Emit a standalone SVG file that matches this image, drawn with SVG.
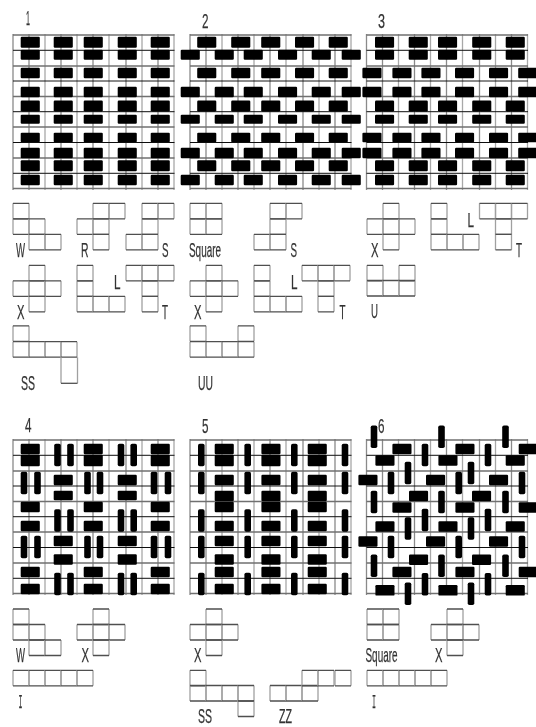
<svg xmlns="http://www.w3.org/2000/svg" width="536" height="727" viewBox="0 0 536 727">
<style>
.gv{stroke:#8a8a8a;stroke-width:1.3;fill:none}
.gv2{stroke:#a8a8a8;stroke-width:1.3;fill:none}
.gh{stroke:#707070;stroke-width:1.7;fill:none}
.gk{stroke:#111;stroke-width:1;fill:none}
.cv{stroke:#a0a0a0;stroke-width:1.3;fill:none}
.ch{stroke:#505050;stroke-width:1.3;fill:none}
.b{fill:#000}
text{font-family:"Liberation Sans",Arial,sans-serif;font-size:21px;fill:#333;stroke:#333;stroke-width:.25}
.m{font-family:"Liberation Mono",monospace}
</style>
<defs>
<filter id="soft" x="0" y="0" width="536" height="727" filterUnits="userSpaceOnUse"><feGaussianBlur stdDeviation="0.4"/></filter>
<g id="grid">
<path class="gv" d="M0-1V155M16-1V155M48-1V155M80-1V155M113-1V155M145-1V155"/>
<path class="gv2" d="M32-1V155M64-1V155M96-1V155M129-1V155M161-1V155"/>
<path class="gh" d="M0 0H161.500M0 31H161.500M0 61.500H161.500M0 92H161.500M0 123H161.500M0 153.500H161.500"/>
<path class="gk" d="M0 15.300H161.500M0 46H161.500M0 76.700H161.500M0 107.500H161.500M0 138.300H161.500"/>
</g>
<g id="c"><path class="cv" d="M0 0V15.500M16 0V15.500"/><path class="ch" d="M0 0H16M0 15.500H16"/></g>
<rect id="h" class="b" x="-.3" y="-.3" width="19.100" height="10.600" rx="1.200"/>
<rect id="v" class="b" x="-.3" y="-.3" width="6.600" height="22.600" rx="1.800"/>
<g id="r1"><use href="#h" x="21"/><use href="#h" x="54"/><use href="#h" x="84"/><use href="#h" x="118"/><use href="#h" x="151"/></g>
<g id="r2a"><use href="#h" x="197.500"/><use href="#h" x="231.500"/><use href="#h" x="261.500"/><use href="#h" x="295.300"/><use href="#h" x="329"/></g>
<g id="r2b"><use href="#h" x="181"/><use href="#h" x="215"/><use href="#h" x="244"/><use href="#h" x="278.300"/><use href="#h" x="312"/><use href="#h" x="342"/></g>
<g id="r3a"><use href="#h" x="375.300"/><use href="#h" x="409"/><use href="#h" x="438.300"/><use href="#h" x="472.500"/><use href="#h" x="506"/></g>
<g id="r3b"><use href="#h" x="362.700"/><use href="#h" x="392.700"/><use href="#h" x="421.700"/><use href="#h" x="455.300"/><use href="#h" x="489.300"/><use href="#h" x="518.500"/></g>
<g id="h4a"><use href="#h" x="21"/><use href="#h" x="84"/><use href="#h" x="151"/></g>
<g id="h4b"><use href="#h" x="54"/><use href="#h" x="118"/></g>
<g id="v4a"><use href="#v" x="54.500"/><use href="#v" x="67.500"/><use href="#v" x="118"/><use href="#v" x="130.700"/></g>
<g id="v4b"><use href="#v" x="21"/><use href="#v" x="34.500"/><use href="#v" x="84.500"/><use href="#v" x="97"/><use href="#v" x="151"/><use href="#v" x="165"/></g>
<g id="h5"><use href="#h" x="215"/><use href="#h" x="261.700"/><use href="#h" x="308"/></g>
<g id="v5"><use href="#v" x="198.300"/><use href="#v" x="244.700"/><use href="#v" x="291.300"/><use href="#v" x="342"/></g>
<g id="va"><use href="#v" x="371"/><use href="#v" x="438.500"/><use href="#v" x="502.500"/></g>
<g id="hb"><use href="#h" x="392.700"/><use href="#h" x="455.700"/><use href="#h" x="519"/></g>
<g id="vc"><use href="#v" x="422"/><use href="#v" x="485"/></g>
<g id="hd"><use href="#h" x="375.700"/><use href="#h" x="438.700"/><use href="#h" x="506"/></g>
<g id="ve"><use href="#v" x="405"/><use href="#v" x="468"/></g>
<g id="hf"><use href="#h" x="358.700"/><use href="#h" x="426.300"/><use href="#h" x="489.300"/></g>
<g id="vg"><use href="#v" x="388"/><use href="#v" x="455.700"/><use href="#v" x="519"/></g>
<g id="hi"><use href="#h" x="409.300"/><use href="#h" x="472.300"/></g>
<g id="pW"><use href="#c" y="0"/><use href="#c" y="15.500"/><use href="#c" x="16" y="15.500"/><use href="#c" x="16" y="31"/><use href="#c" x="32" y="31"/></g>
<g id="pX"><use href="#c" x="16"/><use href="#c" y="15.500"/><use href="#c" x="16" y="15.500"/><use href="#c" x="32" y="15.500"/><use href="#c" x="16" y="31"/></g>
<g id="pS"><use href="#c" x="16"/><use href="#c" x="32"/><use href="#c" x="16" y="15.500"/><use href="#c" y="31"/><use href="#c" x="16" y="31"/></g>
<g id="pR"><use href="#c" x="16"/><use href="#c" x="32"/><use href="#c" y="15.500"/><use href="#c" x="16" y="15.500"/><use href="#c" x="16" y="31"/></g>
<g id="pL"><use href="#c"/><use href="#c" y="15.500"/><use href="#c" y="31"/><use href="#c" x="16" y="31"/><use href="#c" x="32" y="31"/></g>
<g id="pT"><use href="#c"/><use href="#c" x="16"/><use href="#c" x="32"/><use href="#c" x="16" y="15.500"/><use href="#c" x="16" y="31"/></g>
<g id="pQ"><use href="#c"/><use href="#c" x="16"/><use href="#c" y="15.500"/><use href="#c" x="16" y="15.500"/></g>
<g id="pI4"><use href="#c"/><use href="#c" x="16"/><use href="#c" x="32"/><use href="#c" x="48"/></g>
<g id="pI"><use href="#pI4"/><use href="#c" x="64"/></g>
</defs>
<rect width="536" height="727" fill="#fff"/>
<g filter="url(#soft)">
<g id="panel-1">
<use href="#grid" x="13" y="35"/>
<use href="#r1" transform="translate(0,37) scale(1,1.050)"/>
<use href="#r1" transform="translate(0,50) scale(1,.95)"/>
<use href="#r1" transform="translate(0,68)"/>
<use href="#r1" transform="translate(0,87)"/>
<use href="#r1" transform="translate(0,100.700) scale(1,1.050)"/>
<use href="#r1" transform="translate(0,115) scale(1,.85)"/>
<use href="#r1" transform="translate(0,133) scale(1,.9)"/>
<use href="#r1" transform="translate(0,148)"/>
<use href="#r1" transform="translate(0,160.500) scale(1,1.050)"/>
<use href="#r1" transform="translate(0,175)"/>
<text x="26" y="25" textLength="4" lengthAdjust="spacingAndGlyphs">1</text>
</g>
<g id="panel-2">
<use href="#grid" x="190" y="35"/>
<use href="#r2a" transform="translate(0,37) scale(1,1.050)"/>
<use href="#r2b" transform="translate(0,50) scale(1,.95)"/>
<use href="#r2a" transform="translate(0,68)"/>
<use href="#r2b" transform="translate(0,87)"/>
<use href="#r2a" transform="translate(0,100.700) scale(1,1.050)"/>
<use href="#r2b" transform="translate(0,115) scale(1,.85)"/>
<use href="#r2a" transform="translate(0,133) scale(1,.9)"/>
<use href="#r2b" transform="translate(0,148)"/>
<use href="#r2a" transform="translate(0,160.500) scale(1,1.050)"/>
<use href="#r2b" transform="translate(0,175)"/>
<text x="202" y="28" textLength="6.500" lengthAdjust="spacingAndGlyphs">2</text>
</g>
<g id="panel-3">
<use href="#grid" x="366.500" y="35"/>
<use href="#r3a" transform="translate(0,37) scale(1,1.050)"/>
<use href="#r3a" transform="translate(0,50) scale(1,.95)"/>
<use href="#r3b" transform="translate(0,68)"/>
<use href="#r3b" transform="translate(0,87)"/>
<use href="#r3a" transform="translate(0,100.700) scale(1,1.050)"/>
<use href="#r3a" transform="translate(0,115) scale(1,.85)"/>
<use href="#r3b" transform="translate(0,133) scale(1,.9)"/>
<use href="#r3b" transform="translate(0,148)"/>
<use href="#r3a" transform="translate(0,160.500) scale(1,1.050)"/>
<use href="#r3a" transform="translate(0,175)"/>
<text x="378" y="28" textLength="7" lengthAdjust="spacingAndGlyphs">3</text>
</g>
<g id="panel-4">
<use href="#grid" x="13" y="440"/>
<use href="#h4a" y="444"/><use href="#h4a" transform="translate(0,455) scale(1,1.100)"/><use href="#v4a" y="444"/>
<use href="#v4b" y="472"/><use href="#h4b" y="475"/><use href="#h4b" transform="translate(0,491) scale(1,.9)"/>
<use href="#h4a" y="502"/><use href="#h4a" y="521"/><use href="#v4a" y="509.500"/>
<use href="#v4b" y="536"/><use href="#h4b" y="536"/><use href="#h4b" y="554.500"/>
<use href="#h4a" y="567"/><use href="#h4a" y="584"/><use href="#v4a" y="573"/>
<text x="25" y="432" textLength="6.500" lengthAdjust="spacingAndGlyphs">4</text>
</g>
<g id="panel-5">
<use href="#grid" x="190" y="440"/>
<use href="#h5" y="444"/><use href="#h5" transform="translate(0,455) scale(1,1.100)"/><use href="#v5" y="444"/>
<use href="#v5" y="472"/><use href="#h5" y="475"/><use href="#h5" y="491"/>
<use href="#h5" y="502"/><use href="#h5" y="521"/><use href="#v5" y="509.500"/>
<use href="#v5" y="536"/><use href="#h5" y="536"/><use href="#h5" y="554.500"/>
<use href="#h5" y="567"/><use href="#h5" y="584"/><use href="#v5" y="573"/>
<text x="202" y="432.500" textLength="6.500" lengthAdjust="spacingAndGlyphs">5</text>
</g>
<g id="panel-6">
<use href="#grid" x="366.500" y="440"/>
<use href="#va" y="425.700"/><use href="#hb" y="444"/><use href="#vc" y="444"/><use href="#hd" y="455.500"/><use href="#ve" y="462"/><use href="#hf" y="475"/><use href="#vg" y="472"/>
<use href="#va" y="491"/><use href="#hi" y="491"/><use href="#hb" y="502.500"/><use href="#vc" y="509"/><use href="#hd" y="521.500"/><use href="#ve" y="517.500"/><use href="#hf" y="536.500"/><use href="#vg" y="536"/>
<use href="#va" y="554.700"/><use href="#hi" y="554.700"/><use href="#hb" y="567"/><use href="#vc" y="573.300"/><use href="#hd" y="585.300"/><use href="#ve" y="582.700"/>
<text x="378" y="432.500" textLength="6.500" lengthAdjust="spacingAndGlyphs">6</text>
</g>
<g id="pieces-1">
<g id="w1"><use href="#pW" x="13" y="203.300"/><text x="16" y="257" textLength="9" lengthAdjust="spacingAndGlyphs">W</text></g>
<g id="r1-piece"><use href="#pR" x="77" y="203.300"/><text x="81" y="257" textLength="7.500" lengthAdjust="spacingAndGlyphs">R</text></g>
<g id="s1"><use href="#pS" x="126" y="203.300"/><text x="162" y="257" textLength="6.500" lengthAdjust="spacingAndGlyphs">S</text></g>
<g id="x1"><use href="#pX" x="13" y="265.300"/><text x="17" y="319" textLength="7.500" lengthAdjust="spacingAndGlyphs">X</text></g>
<g id="l1"><use href="#pL" x="77" y="265.300"/><text x="114" y="288.500" textLength="6.500" lengthAdjust="spacingAndGlyphs">L</text></g>
<g id="t1"><use href="#pT" x="126" y="265.300"/><text x="162" y="318.500" textLength="6" lengthAdjust="spacingAndGlyphs">T</text></g>
<g id="ss1"><use href="#c" x="13" y="325.800"/><use href="#pI4" x="13" y="341.700"/><path class="cv" d="M61 357.300V383.300M77.500 357.300V383.300"/><path class="ch" d="M61 383.300H77.500"/><text x="21" y="390" textLength="14" lengthAdjust="spacingAndGlyphs">SS</text></g>
</g>
<g id="pieces-2">
<g id="sq2"><use href="#pQ" x="190" y="203.300"/><text x="189" y="256.500" textLength="32" lengthAdjust="spacingAndGlyphs">Square</text></g>
<g id="s2"><use href="#pS" x="254" y="203.300"/><text x="290.500" y="257" textLength="6.500" lengthAdjust="spacingAndGlyphs">S</text></g>
<g id="x2"><use href="#pX" x="190" y="265.300"/><text x="194" y="319" textLength="7.500" lengthAdjust="spacingAndGlyphs">X</text></g>
<g id="l2"><use href="#pL" x="254" y="265.300"/><text x="291" y="288.500" textLength="6.500" lengthAdjust="spacingAndGlyphs">L</text></g>
<g id="t2"><use href="#pT" x="302" y="265.300"/><text x="339.500" y="318.500" textLength="6" lengthAdjust="spacingAndGlyphs">T</text></g>
<g id="uu2"><use href="#c" x="190" y="325.800"/><use href="#c" x="238" y="325.800"/><use href="#pI4" x="190" y="341.700"/><text x="198" y="390" textLength="15" lengthAdjust="spacingAndGlyphs">UU</text></g>
</g>
<g id="pieces-3">
<g id="x3"><use href="#pX" x="367" y="203.300"/><text x="371" y="257" textLength="7.500" lengthAdjust="spacingAndGlyphs">X</text></g>
<g id="l3"><use href="#pL" x="431" y="203.300"/><text x="467.500" y="226.500" textLength="6.500" lengthAdjust="spacingAndGlyphs">L</text></g>
<g id="t3"><use href="#pT" x="479.500" y="203.300"/><text x="516" y="257" textLength="6" lengthAdjust="spacingAndGlyphs">T</text></g>
<g id="u3"><use href="#c" x="367" y="265.300"/><use href="#c" x="399" y="265.300"/><use href="#c" x="367" y="280.500"/><use href="#c" x="383" y="280.500"/><use href="#c" x="399" y="280.500"/><text x="371" y="318" textLength="7" lengthAdjust="spacingAndGlyphs">U</text></g>
</g>
<g id="pieces-4">
<g id="w4"><use href="#pW" x="13" y="609"/><text x="16" y="662" textLength="9" lengthAdjust="spacingAndGlyphs">W</text></g>
<g id="x4"><use href="#pX" x="77" y="609"/><text x="81.500" y="662" textLength="7.500" lengthAdjust="spacingAndGlyphs">X</text></g>
<g id="i4"><use href="#pI" x="13" y="670.300"/><text class="m" x="18.500" y="708" textLength="4" lengthAdjust="spacingAndGlyphs">I</text></g>
</g>
<g id="pieces-5">
<g id="x5"><use href="#pX" x="190" y="609"/><text x="194" y="662" textLength="7.500" lengthAdjust="spacingAndGlyphs">X</text></g>
<g id="ss5"><use href="#c" x="190" y="670.300"/><use href="#pI4" x="190" y="685.500"/><use href="#c" x="238" y="701"/><text x="198" y="722.500" textLength="14" lengthAdjust="spacingAndGlyphs">SS</text></g>
<g id="zz5"><use href="#c" x="270" y="685.500"/><use href="#c" x="286" y="685.500"/><use href="#c" x="302" y="685.500"/><use href="#c" x="302" y="670.300"/><use href="#c" x="318" y="670.300"/><use href="#c" x="335" y="670.300"/><text x="279" y="723" textLength="13" lengthAdjust="spacingAndGlyphs">ZZ</text></g>
</g>
<g id="pieces-6">
<g id="sq6"><use href="#pQ" x="367" y="609"/><text x="365.500" y="662" textLength="32" lengthAdjust="spacingAndGlyphs">Square</text></g>
<g id="x6"><use href="#pX" x="431" y="609"/><text x="435" y="662" textLength="7.500" lengthAdjust="spacingAndGlyphs">X</text></g>
<g id="i6"><use href="#pI" x="367" y="670.300"/><text class="m" x="372" y="708" textLength="4" lengthAdjust="spacingAndGlyphs">I</text></g>
</g>
</g>
</svg>
